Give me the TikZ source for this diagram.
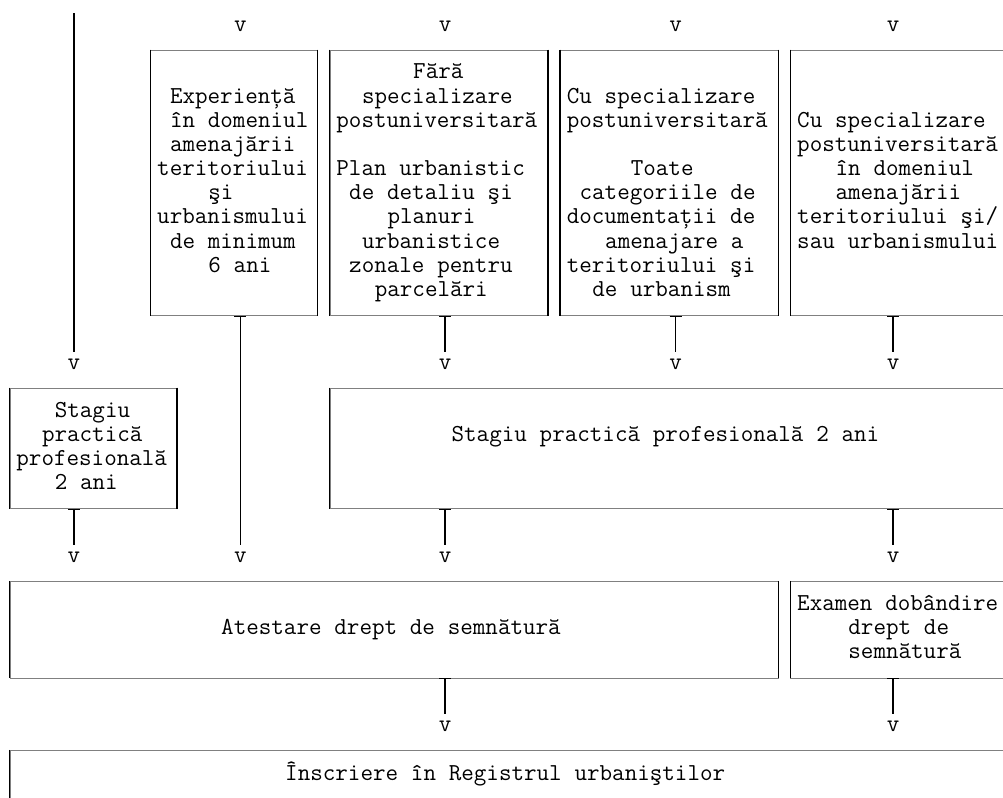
\documentclass[tikz,border=0pt]{standalone}
\usepackage{fontspec}
\usetikzlibrary{arrows.meta}
\newlength\colw \setlength\colw{12.8pt}
\newlength\rowh \setlength\rowh{24.15pt}
\newcommand\pad[1]{\hspace*{#1\colw}}
\newcommand\gridfont{\ttfamily\fontsize{24.37}{24.15}\selectfont}

\begin{document}
\begin{tikzpicture}[x=12.8pt, y=-24.15pt, font=\gridfont,
  cellbox/.style 2 args={draw=black!50, line width=0.75pt, inner xsep=0.5\colw, inner ysep=0pt,
    text width=#1\colw, minimum height=#2\rowh, align=left,
    execute at begin node={\spaceskip\colw\xspaceskip\colw\strut}, execute at end node=\strut},
  vmark/.style={inner sep=0pt, anchor=base, yshift=-5.2pt, text height=17pt, text depth=0pt},
  vline/.style={line width=1.5pt}]
  \useasboundingbox (-0.78125,-2.0704) rectangle (77.578,30.932);

  \node[cellbox={12}{11}] (exp) at (17.5,5.5) {\pad{1}Experiență\\\pad{1}în domeniul\\\pad{1}amenajării\\teritoriului\\\pad{4}şi\\urbanismului\\\pad{1}de minimum\\\pad{4}6 ani};
  \node[cellbox={16}{11}] (fara) at (33.5,5.5) {\pad{6}Fără\\\pad{2}specializare\\postuniversitară\\\strut\\Plan urbanistic\\\pad{1}de detaliu şi\\\pad{4}planuri\\\pad{2}urbanistice\\\pad{1}zonale pentru\\\pad{3}parcelări};
  \node[cellbox={16}{11}] (cuspec) at (51.5,5.5) {\\Cu specializare\\postuniversitară\\\strut\\\pad{5}Toate\\\pad{1}categoriile de\\documentații de\\\pad{3}amenajare a\\teritoriului şi\\\pad{2}de urbanism};
  \node[cellbox={16}{11}] (cudom) at (69.5,5.5) {Cu specializare\\postuniversitară\\\pad{3}în domeniul\\\pad{3}amenajării\\teritoriului şi/\\sau urbanismului};
  \node[cellbox={12}{5}] (stag1) at (6.5,16.5) {\pad{3}Stagiu\\\pad{2}practică\\profesională\\\pad{3}2 ani};
  \node[cellbox={52}{5}] (stag2) at (51.5,16.5) {\\\pad{9}Stagiu practică profesională 2 ani\\\strut\\};
  \node[cellbox={59}{4}] (atest) at (30,24) {\pad{16}Atestare drept de semnătură};
  \node[cellbox={16}{4}] (examen) at (69.5,24) {Examen dobândire\\\pad{4}drept de\\\pad{4}semnătură};
  \node[cellbox={77}{3}] (inscr) at (39,30.5) {\pad{21}Înscriere în Registrul urbaniştilor\\};

  \foreach \b in {exp,fara,cuspec,cudom,stag1,stag2,atest,examen,inscr}
    \draw[vline] (\b.north west) -- (\b.south west) (\b.north east) -- (\b.south east);

  \foreach \r/\c in {-1/18,-1/34,-1/52,-1/69,13/5,13/34,13/52,13/69,21/5,21/18,21/34,21/69,28/34,28/69}
    \node[vmark] (v\r-\c) at (\c,\r) {v};

  \coordinate (top) at (5,-1.52);
  \draw[vline] (top) -- (v13-5);
  \foreach \v/\b in {13-34/fara,13-52/cuspec,13-69/cudom,21-5/stag1,21-18/exp,21-34/stag2,21-69/stag2,28-34/atest,28-69/examen}
    \draw[vline,{Bar[width=12pt,line width=1pt]}-] (v\v |- \b.south) -- (v\v);
\end{tikzpicture}
\end{document}
